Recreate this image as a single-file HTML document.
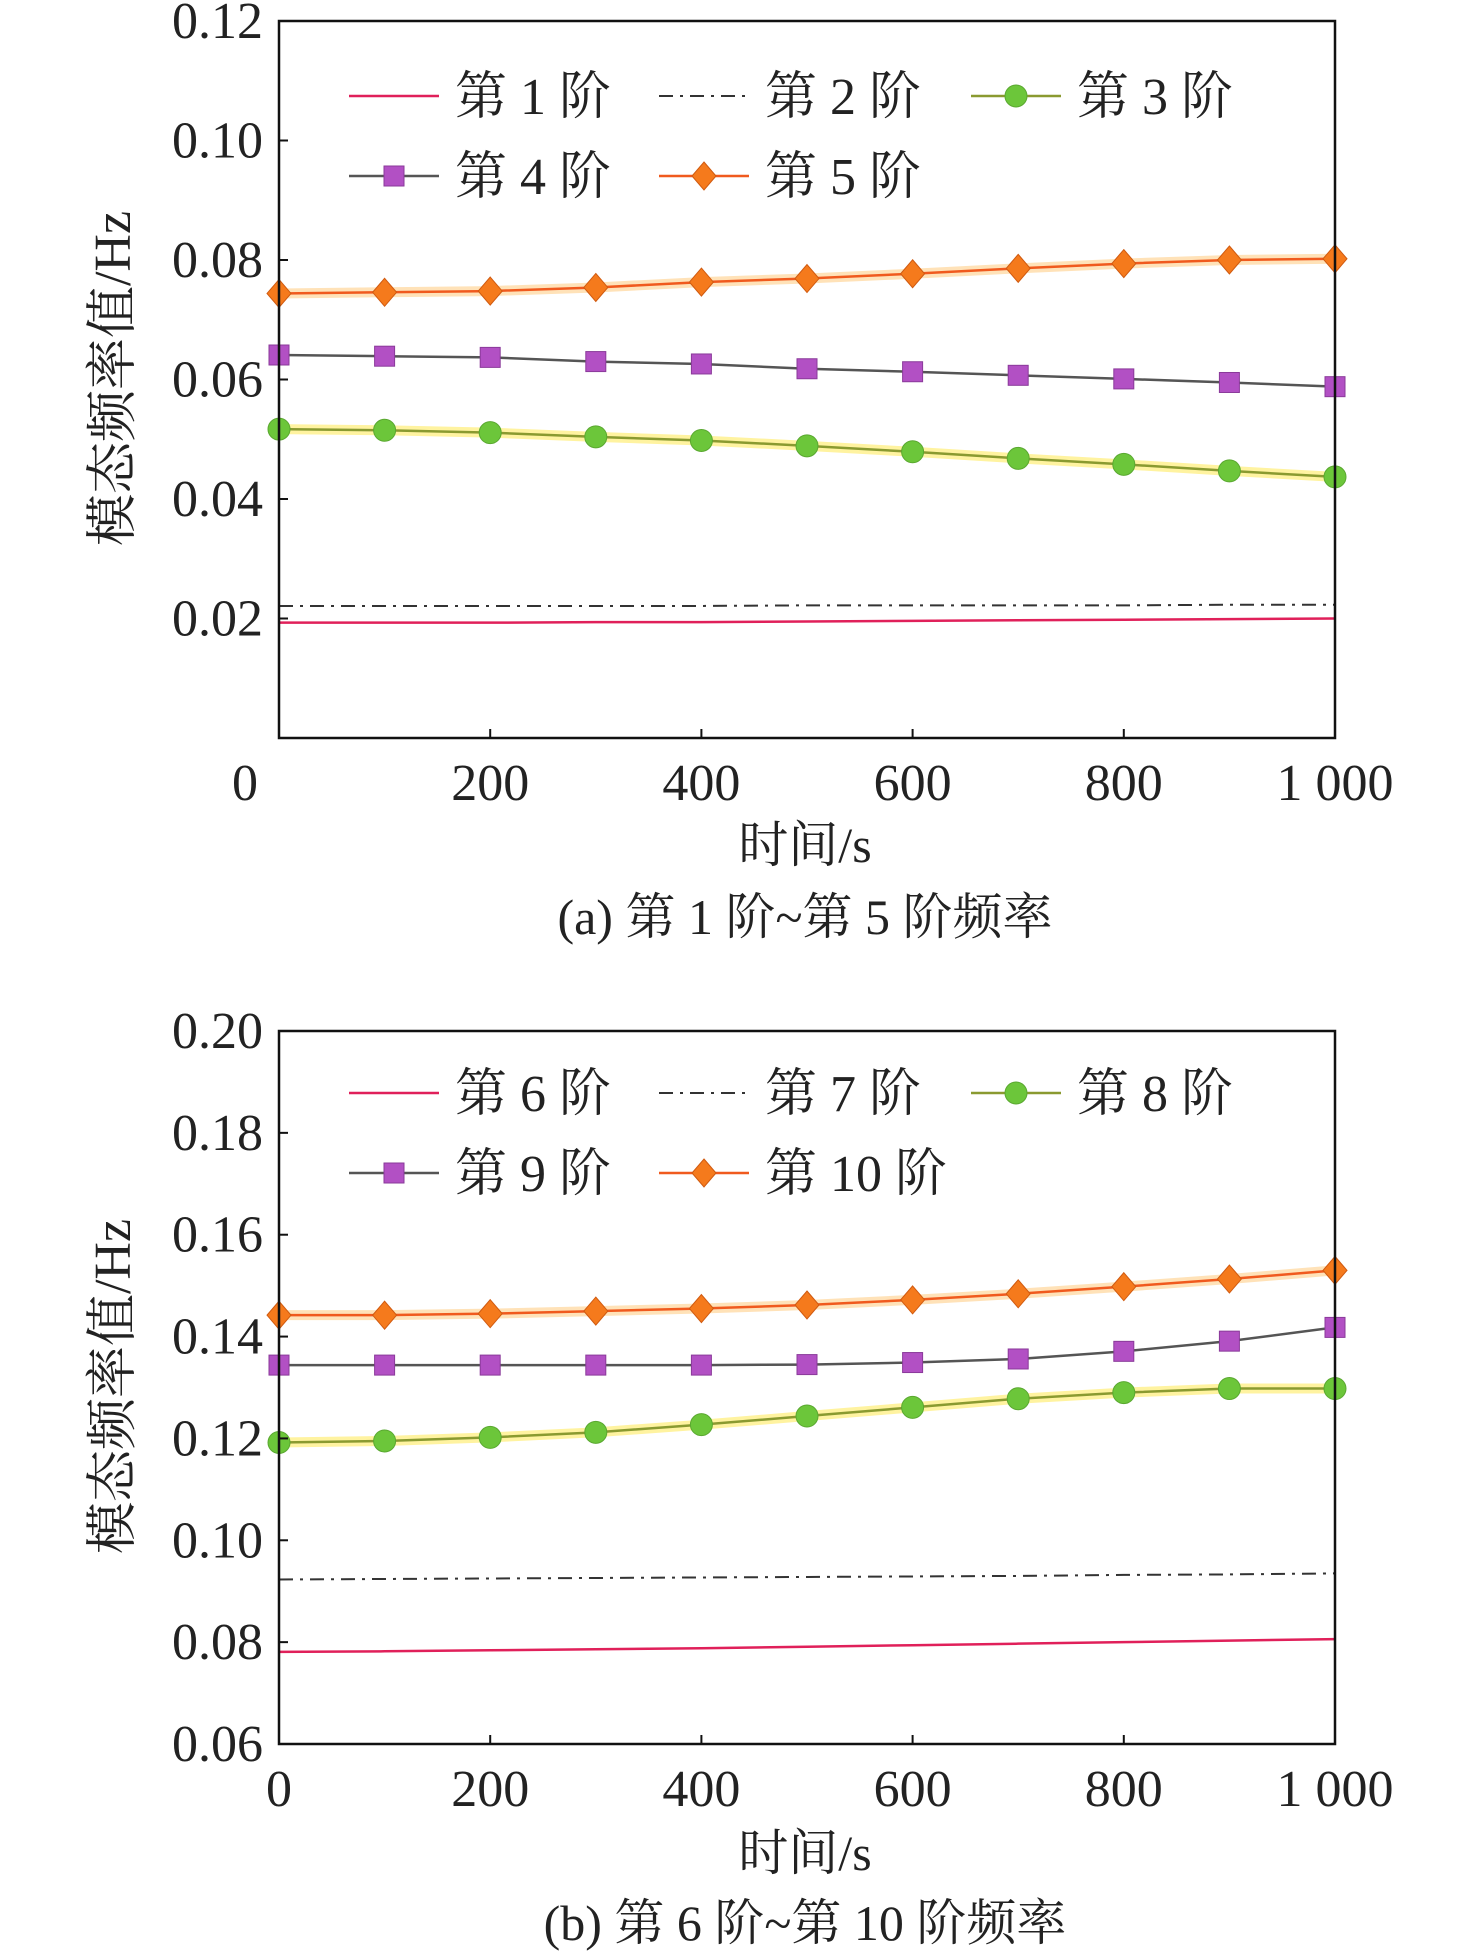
<!DOCTYPE html>
<html><head><meta charset="utf-8">
<style>
html,body{margin:0;padding:0;background:#fff;}
svg{display:block;}
text{font-family:"Liberation Serif","Noto Serif CJK SC","Noto Sans CJK SC",serif;fill:#222;}
</style></head>
<body>
<svg id="chart" width="1476" height="1956" viewBox="0 0 1476 1956" xmlns="http://www.w3.org/2000/svg"></svg>
<script>
const times = [0,100,200,300,400,500,600,700,800,900,1000];
const xTicks = [0,200,400,600,800,1000];
const xTickLabels = ["0","200","400","600","800","1 000"];
// panel a
const yTicksA = [0.02,0.04,0.06,0.08,0.10,0.12];
const yTickLabelsA = ["0.02","0.04","0.06","0.08","0.10","0.12"];
const mode1 = [0.0193,0.0193,0.0193,0.0194,0.0194,0.0195,0.0196,0.0197,0.0198,0.0199,0.0200];
const mode2 = [0.0221,0.0221,0.0221,0.0221,0.0221,0.0222,0.0222,0.0222,0.0222,0.0223,0.0223];
const mode3 = [0.0517,0.0515,0.0511,0.0504,0.0498,0.0489,0.0479,0.0468,0.0458,0.0447,0.0437];
const mode4 = [0.0641,0.0639,0.0637,0.0630,0.0626,0.0618,0.0613,0.0607,0.0601,0.0595,0.0588];
const mode5 = [0.0744,0.0746,0.0748,0.0754,0.0763,0.0769,0.0777,0.0786,0.0794,0.0800,0.0802];
// panel b
const yTicksB = [0.06,0.08,0.10,0.12,0.14,0.16,0.18,0.20];
const yTickLabelsB = ["0.06","0.08","0.10","0.12","0.14","0.16","0.18","0.20"];
const mode6 = [0.0781,0.0782,0.0784,0.0786,0.0788,0.0791,0.0794,0.0797,0.0800,0.0803,0.0806];
const mode7 = [0.0923,0.0924,0.0925,0.0926,0.0927,0.0928,0.0929,0.0930,0.0932,0.0933,0.0935];
const mode8 = [0.1192,0.1195,0.1202,0.1212,0.1227,0.1244,0.1261,0.1278,0.1290,0.1298,0.1298];
const mode9 = [0.1344,0.1344,0.1344,0.1344,0.1344,0.1345,0.1349,0.1356,0.1371,0.1391,0.1418];
const mode10 = [0.1442,0.1442,0.1445,0.1450,0.1455,0.1462,0.1472,0.1484,0.1498,0.1513,0.1530];
const legendA = ["第 1 阶","第 2 阶","第 3 阶","第 4 阶","第 5 阶"];
const legendB = ["第 6 阶","第 7 阶","第 8 阶","第 9 阶","第 10 阶"];

const NS="http://www.w3.org/2000/svg";
const svg=document.getElementById('chart');
function mk(tag,attrs,parent,txt){const e=document.createElementNS(NS,tag);for(const k in attrs)e.setAttribute(k,attrs[k]);if(txt!==undefined)e.textContent=txt;(parent||svg).appendChild(e);return e;}

const styles=[
 {line:'#e0205a',w:2.5,dash:null,marker:null,glow:null},
 {line:'#333',w:2,dash:'14 7 3 7',marker:null,glow:null},
 {line:'#8a9a30',w:2.5,dash:null,marker:'circle',fill:'#6cc63a',glow:'#fff3a0'},
 {line:'#555',w:2.5,dash:null,marker:'square',fill:'#b250c4',glow:null},
 {line:'#f05a1e',w:2.5,dash:null,marker:'diamond',fill:'#f57a1c',glow:'#ffe2b8'}
];

function marker(g,kind,x,y,fill){
  if(kind==='circle'){return mk('circle',{cx:x,cy:y,r:11,fill:fill,stroke:'#5aa830','stroke-width':1},g);}
  if(kind==='square'){return mk('rect',{x:x-10,y:y-10,width:20,height:20,fill:fill,stroke:'#8a3a9a','stroke-width':1},g);}
  if(kind==='diamond'){return mk('polygon',{points:`${x},${y-14} ${x+12},${y} ${x},${y+14} ${x-12},${y}`,fill:fill,stroke:'#d05a10','stroke-width':1},g);}
}

function panel(id,top,bottom,ymin,ymax,yTicks,yTickLabels,series,legend,legendTop,xTitleY,captionY,caption,zeroLabelX){
  const L=279,R=1335;
  const g=mk('g',{});
  
  
  const sx=v=>L+(v-0)/(1000-0)*(R-L);
  const sy=v=>bottom-(v-ymin)/(ymax-ymin)*(bottom-top);
  series.forEach((vals,i)=>{
    const st=styles[i];
    const sg=mk('g',{},g);
    
    
    const pts=vals.map((v,j)=>sx(times[j])+','+sy(v)).join(' ');
    if(st.glow) mk('polyline',{points:pts,fill:'none',stroke:st.glow,'stroke-width':10,'stroke-linejoin':'round'},sg);
    const pl=mk('polyline',{points:pts,fill:'none',stroke:st.line,'stroke-width':st.w},sg);
    if(st.dash) pl.setAttribute('stroke-dasharray',st.dash);
    if(st.marker) vals.forEach((v,j)=>{const m=marker(sg,st.marker,sx(times[j]),sy(v),st.fill);
      
      });
  });
  const fr=mk('rect',{x:L,y:top,width:R-L,height:bottom-top,fill:'none',stroke:'#111','stroke-width':2.5},g);
  
  
  yTicks.forEach((t,i)=>{
    mk('line',{x1:L,x2:L+9,y1:sy(t),y2:sy(t),stroke:'#111','stroke-width':2},g);
    const tx=mk('text',{x:L-16,y:sy(t)+17,'font-size':52,'text-anchor':'end'},g,yTickLabels[i]);
    
    
  });
  xTicks.forEach((t,i)=>{
    mk('line',{x1:sx(t),x2:sx(t),y1:bottom,y2:bottom-9,stroke:'#111','stroke-width':2},g);
    let x=sx(t); if(t===0&&zeroLabelX) x=zeroLabelX;
    const tx=mk('text',{x:x,y:bottom+62,'font-size':52,'text-anchor':'middle'},g,xTickLabels[i]);
    
    
  });
  const yt=mk('text',{x:0,y:0,'font-size':52,'text-anchor':'middle',transform:`translate(130,${(top+bottom)/2 - 1}) rotate(-90)`},g,'模态频率值/Hz');
  
  
  const xt=mk('text',{x:805,y:xTitleY,'font-size':50,'text-anchor':'middle'},g,'时间/s');
  
  
  const cp=mk('text',{x:805,y:captionY,'font-size':50,'text-anchor':'middle'},g,caption);
  
  
  const pos=[[349,legendTop],[659,legendTop],[971,legendTop],[349,legendTop+80],[659,legendTop+80]];
  legend.forEach((lab,i)=>{
    const st=styles[i];const [x0,y0]=pos[i];
    const lg=mk('g',{},g);
    
    
    const ln=mk('line',{x1:x0,x2:x0+90,y1:y0,y2:y0,stroke:st.line,'stroke-width':st.w},lg);
    if(st.dash) ln.setAttribute('stroke-dasharray','14 7 3 7');
    if(st.marker) marker(lg,st.marker,x0+45,y0,st.fill);
    mk('text',{x:x0+106,y:y0+18,'font-size':52},lg,lab);
  });
}
panel('panel-a',21,738,0,0.12,yTicksA,yTickLabelsA,[mode1,mode2,mode3,mode4,mode5],legendA,96,862,934,'(a) 第 1 阶~第 5 阶频率',245);
panel('panel-b',1031,1744,0.06,0.20,yTicksB,yTickLabelsB,[mode6,mode7,mode8,mode9,mode10],legendB,1093,1870,1940,'(b) 第 6 阶~第 10 阶频率',null);
</script>
</body></html>
